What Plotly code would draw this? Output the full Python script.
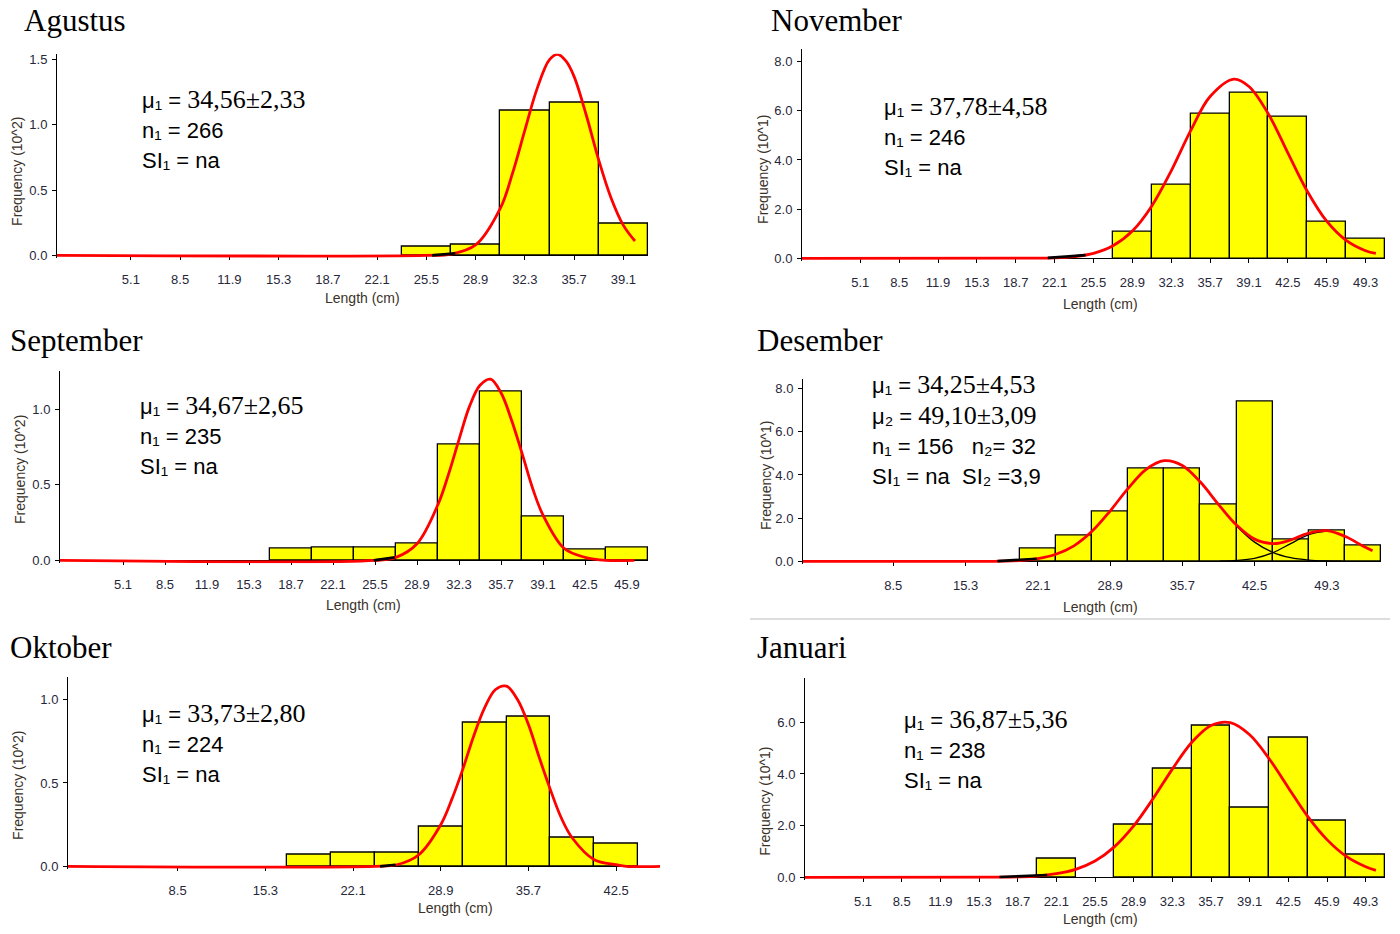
import plotly.graph_objects as go

# ------------------------------------------------------------------ data
BIN_WIDTH = 3.4

# Agustus
ag_len = [25.5, 28.9, 32.3, 35.7, 39.1]
ag_freq = [0.07, 0.08, 1.11, 1.17, 0.24]
ag_curve_x = [0, 25.5, 27.2, 28.9, 30.6, 31.45, 32.3, 33.15, 34.0, 34.56, 35.13, 35.7, 36.55, 37.4, 38.25, 39.1, 39.9]
ag_curve_y = [0, 0, 0.01, 0.08, 0.36, 0.63, 0.96, 1.28, 1.50, 1.54, 1.49, 1.37, 1.07, 0.73, 0.44, 0.23, 0.11]
ag_tail_x = [25.9, 27.5]
ag_tail_y = [0.0, 0.015]
ag_xticks = [5.1, 8.5, 11.9, 15.3, 18.7, 22.1, 25.5, 28.9, 32.3, 35.7, 39.1]
ag_yticks = [0.0, 0.5, 1.0, 1.5]

# November
nov_len = [28.9, 32.3, 35.7, 39.1, 42.5, 45.9, 49.3]
nov_freq = [1.07, 3.00, 5.90, 6.72, 5.74, 1.50, 0.79]
nov_curve_x = [0, 20.4, 22.1, 23.8, 25.5, 27.2, 28.9, 30.6, 32.3, 34.0, 35.7, 37.78, 39.1, 40.8, 42.5, 44.2, 45.9, 47.6, 49.3, 50.2]
nov_curve_y = [0, 0.01, 0.02, 0.07, 0.20, 0.51, 1.11, 2.13, 3.56, 5.19, 6.58, 7.29, 6.99, 5.87, 4.29, 2.73, 1.51, 0.73, 0.31, 0.20]
nov_tail_x = [21.5, 24.8]
nov_tail_y = [0.02, 0.13]
nov_xticks = [5.1, 8.5, 11.9, 15.3, 18.7, 22.1, 25.5, 28.9, 32.3, 35.7, 39.1, 42.5, 45.9, 49.3]
nov_yticks = [0.0, 2.0, 4.0, 6.0, 8.0]

# September
sep_len = [18.7, 22.1, 25.5, 28.9, 32.3, 35.7, 39.1, 42.5, 45.9]
sep_freq = [0.075, 0.085, 0.085, 0.11, 0.77, 1.115, 0.29, 0.07, 0.085]
sep_curve_x = [0, 25.5, 27.2, 28.9, 30.6, 31.45, 32.3, 33.15, 34.0, 34.85, 35.7, 36.55, 37.4, 38.25, 39.1, 40.8, 42.5, 44.2, 46.5]
sep_curve_y = [0, 0, 0.02, 0.11, 0.37, 0.57, 0.80, 1.02, 1.16, 1.20, 1.11, 0.93, 0.71, 0.48, 0.30, 0.08, 0.02, 0, 0]
sep_tail_x = [25.4, 27.1]
sep_tail_y = [0.0, 0.02]
sep_xticks = [5.1, 8.5, 11.9, 15.3, 18.7, 22.1, 25.5, 28.9, 32.3, 35.7, 39.1, 42.5, 45.9]
sep_yticks = [0.0, 0.5, 1.0]

# Desember
des_len = [22.1, 25.5, 28.9, 32.3, 35.7, 39.1, 42.5, 45.9, 49.3, 52.7]
des_freq = [0.58, 1.18, 2.32, 4.30, 4.30, 2.62, 7.39, 1.03, 1.42, 0.73]
des_curve_x = [0, 17.0, 18.7, 20.4, 22.1, 23.8, 25.5, 27.2, 28.9, 30.6, 32.3, 34.0, 35.7, 37.4, 39.1, 40.8, 42.5, 44.2, 45.05, 45.9, 47.6, 49.3, 51.0, 52.7, 53.6]
des_curve_y = [0, 0, 0.01, 0.04, 0.13, 0.33, 0.72, 1.39, 2.33, 3.38, 4.26, 4.66, 4.44, 3.67, 2.64, 1.68, 1.03, 0.82, 0.87, 0.99, 1.31, 1.42, 1.16, 0.71, 0.49]
des_comp1_x = [40.8, 42.5, 44.2, 45.9, 47.6, 49.3, 50.7]
des_comp1_y = [1.64, 0.89, 0.42, 0.17, 0.06, 0.02, 0.01]
des_comp2_x = [39.2, 40.8, 42.5, 44.2, 45.9, 47.6, 49.3]
des_comp2_y = [0.01, 0.04, 0.14, 0.40, 0.82, 1.24, 1.40]
des_tail_x = [18.3, 22.0]
des_tail_y = [0.01, 0.12]
des_xticks = [8.5, 15.3, 22.1, 28.9, 35.7, 42.5, 49.3]
des_yticks = [0.0, 2.0, 4.0, 6.0, 8.0]

# Oktober
okt_len = [18.7, 22.1, 25.5, 28.9, 32.3, 35.7, 39.1, 42.5]
okt_freq = [0.07, 0.08, 0.08, 0.24, 0.86, 0.90, 0.17, 0.135]
okt_curve_x = [0, 23.8, 25.5, 27.2, 28.9, 29.75, 30.6, 31.45, 32.3, 33.15, 34.0, 34.85, 35.7, 36.55, 37.4, 38.25, 39.1, 40.8, 42.5, 43.3, 45.9]
okt_curve_y = [0, 0, 0.01, 0.07, 0.25, 0.40, 0.58, 0.78, 0.95, 1.06, 1.08, 1.00, 0.85, 0.65, 0.46, 0.29, 0.17, 0.04, 0.01, 0, 0]
okt_tail_x = [24.2, 25.4]
okt_tail_y = [0.0, 0.01]
okt_xticks = [8.5, 15.3, 22.1, 28.9, 35.7, 42.5]
okt_yticks = [0.0, 0.5, 1.0]

# Januari
jan_len = [22.1, 28.9, 32.3, 35.7, 39.1, 42.5, 45.9, 49.3]
jan_freq = [0.71, 2.03, 4.19, 5.87, 2.70, 5.40, 2.20, 0.88]
jan_curve_x = [0, 17.0, 18.7, 20.4, 22.1, 23.8, 25.5, 27.2, 28.9, 30.6, 32.3, 34.0, 35.7, 37.4, 39.1, 40.8, 42.5, 44.2, 45.9, 47.6, 49.3, 50.2]
jan_curve_y = [0, 0.01, 0.02, 0.05, 0.14, 0.31, 0.63, 1.18, 1.99, 3.04, 4.19, 5.22, 5.88, 5.99, 5.52, 4.60, 3.47, 2.36, 1.46, 0.81, 0.41, 0.27]
jan_tail_x = [17.1, 21.3]
jan_tail_y = [0.01, 0.09]
jan_xticks = [5.1, 8.5, 11.9, 15.3, 18.7, 22.1, 25.5, 28.9, 32.3, 35.7, 39.1, 42.5, 45.9, 49.3]
jan_yticks = [0.0, 2.0, 4.0, 6.0]

# ------------------------------------------------------------------ style
W, H = 1400, 934
SANS = "Liberation Sans, Arial, sans-serif"
SERIF = "Liberation Serif, Times New Roman, serif"
TICK_COLOR = "#27273a"
TITLE_COLOR = "#3a3228"


def num(s):
    return f"<span style='font-family:{SERIF};font-size:26px'>{s}</span>"


panels = [
    dict(title="Agustus", length=ag_len, freq=ag_freq, cx=ag_curve_x, cy=ag_curve_y,
         tx=ag_tail_x, ty=ag_tail_y, xticks=ag_xticks, yticks=ag_yticks, unit="Frequency (10^2)",
         box=(57, 648, 53, 256), xmax=40.8, ymax=1.546,
         tpos=(22, 20), apos=(140, 99), ypos=(17, 172), xpos=(362, 299),
         lines=["μ₁ = " + num("34,56±2,33"), "n₁ = 266", "SI₁ = na"]),
    dict(title="November", length=nov_len, freq=nov_freq, cx=nov_curve_x, cy=nov_curve_y,
         tx=nov_tail_x, ty=nov_tail_y, xticks=nov_xticks, yticks=nov_yticks, unit="Frequency (10^1)",
         box=(802, 1385, 48, 259), xmax=51.0, ymax=8.525,
         tpos=(769, 20), apos=(882, 106), ypos=(763, 170), xpos=(1100, 305),
         lines=["μ₁ = " + num("37,78±4,58"), "n₁ = 246", "SI₁ = na"]),
    dict(title="September", length=sep_len, freq=sep_freq, cx=sep_curve_x, cy=sep_curve_y,
         tx=sep_tail_x, ty=sep_tail_y, xticks=sep_xticks, yticks=sep_yticks, unit="Frequency (10^2)",
         box=(60, 648, 372, 563), xmax=47.6, ymax=1.257,
         tpos=(8, 342), apos=(138, 407), ypos=(20, 472), xpos=(363, 608),
         lines=["μ₁ = " + num("34,67±2,65"), "n₁ = 235", "SI₁ = na"]),
    dict(title="Desember", length=des_len, freq=des_freq, cx=des_curve_x, cy=des_curve_y,
         tx=des_tail_x, ty=des_tail_y, xticks=des_xticks, yticks=des_yticks, unit="Frequency (10^1)",
         box=(803, 1381, 380, 564), xmax=54.4, ymax=8.46,
         tpos=(755, 342), apos=(870, 386), ypos=(766, 478), xpos=(1100, 610),
         lines=["μ₁ = " + num("34,25±4,53"), "μ₂ = " + num("49,10±3,09"),
                "n₁ = 156\u00a0\u00a0\u00a0n₂= 32",
                "SI₁ = na\u00a0\u00a0SI₂ =3,9"]),
    dict(title="Oktober", length=okt_len, freq=okt_freq, cx=okt_curve_x, cy=okt_curve_y,
         tx=okt_tail_x, ty=okt_tail_y, xticks=okt_xticks, yticks=okt_yticks, unit="Frequency (10^2)",
         box=(68, 660, 680, 871), xmax=45.9, ymax=1.137,
         tpos=(8, 651), apos=(140, 717), ypos=(18, 790), xpos=(455, 913),
         lines=["μ₁ = " + num("33,73±2,80"), "n₁ = 224", "SI₁ = na"]),
    dict(title="Januari", length=jan_len, freq=jan_freq, cx=jan_curve_x, cy=jan_curve_y,
         tx=jan_tail_x, ty=jan_tail_y, xticks=jan_xticks, yticks=jan_yticks, unit="Frequency (10^1)",
         box=(805, 1385, 681, 882), xmax=51.0, ymax=7.73,
         tpos=(755, 651), apos=(902, 723), ypos=(765, 805), xpos=(1100, 924),
         lines=["μ₁ = " + num("36,87±5,36"), "n₁ = 238", "SI₁ = na"]),
]


def px(x):
    return x / W


def py(y):
    return 1 - y / H


fig = go.Figure()
annotations = []
PAD = 3  # px below the zero line so the red curve is not clipped

for i, p in enumerate(panels):
    n = i + 1
    xa, ya = ("x", "y") if n == 1 else (f"x{n}", f"y{n}")
    x0, x1, ytop, ybase = p["box"]
    scale = (ybase - ytop) / p["ymax"]
    ymin = -PAD / scale

    fig.add_trace(go.Bar(x=p["length"], y=p["freq"], width=BIN_WIDTH,
                         marker=dict(color="#ffff00", line=dict(color="#000000", width=1.3)),
                         xaxis=xa, yaxis=ya, showlegend=False, hoverinfo="skip"))
    if p["title"] == "Desember":
        for cx, cy in ((des_comp1_x, des_comp1_y), (des_comp2_x, des_comp2_y)):
            fig.add_trace(go.Scatter(x=cx, y=cy, mode="lines",
                                     line=dict(color="#000000", width=1.3, shape="spline"),
                                     xaxis=xa, yaxis=ya, showlegend=False, hoverinfo="skip"))
    fig.add_trace(go.Scatter(x=p["cx"], y=p["cy"], mode="lines",
                             line=dict(color="#ff0000", width=2.8, shape="spline"),
                             xaxis=xa, yaxis=ya, showlegend=False, hoverinfo="skip"))
    fig.add_trace(go.Scatter(x=p["tx"], y=p["ty"], mode="lines",
                             line=dict(color="#000000", width=2.6),
                             xaxis=xa, yaxis=ya, showlegend=False, hoverinfo="skip"))

    fig.update_layout(**{
        f"xaxis{n if n > 1 else ''}": dict(
            domain=[px(x0), px(x1)], range=[0, p["xmax"]], anchor="free", position=py(ybase),
            showline=True, linecolor="#000000", linewidth=1, layer="below traces",
            tickmode="array", tickvals=p["xticks"], ticktext=[f"{v:.1f}" for v in p["xticks"]],
            ticks="outside", ticklen=4, tickcolor="#000000", ticklabelstandoff=8,
            tickfont=dict(family=SANS, size=13, color=TICK_COLOR),
            showgrid=False, zeroline=False, fixedrange=True),
        f"yaxis{n if n > 1 else ''}": dict(
            domain=[py(ybase + PAD), py(ytop)], range=[ymin, p["ymax"]], anchor=xa,
            showline=True, linecolor="#000000", linewidth=1,
            tickmode="array", tickvals=p["yticks"], ticktext=[f"{v:.1f}" for v in p["yticks"]],
            ticks="outside", ticklen=4, tickcolor="#000000", ticklabelstandoff=2,
            tickfont=dict(family=SANS, size=13, color=TICK_COLOR),
            showgrid=False, zeroline=False, fixedrange=True),
    })

    annotations.append(dict(text=p["title"], x=px(p["tpos"][0]), y=py(p["tpos"][1]),
                            xref="paper", yref="paper", xanchor="left", yanchor="middle",
                            showarrow=False, font=dict(family=SERIF, size=31, color="#000000")))
    ax, ay = p["apos"]
    for k, line in enumerate(p["lines"]):
        annotations.append(dict(text=line, x=px(ax), y=py(ay + 31 * k),
                                xref="paper", yref="paper", xanchor="left", yanchor="middle",
                                showarrow=False, font=dict(family=SANS, size=22, color="#000000")))
    annotations.append(dict(text=p["unit"], x=px(p["ypos"][0]), y=py(p["ypos"][1]), textangle=-90,
                            xref="paper", yref="paper", xanchor="center", yanchor="middle",
                            showarrow=False, font=dict(family=SANS, size=14, color=TITLE_COLOR)))
    annotations.append(dict(text="Length (cm)", x=px(p["xpos"][0]), y=py(p["xpos"][1]),
                            xref="paper", yref="paper", xanchor="center", yanchor="middle",
                            showarrow=False, font=dict(family=SANS, size=14, color=TITLE_COLOR)))

fig.update_layout(
    width=W, height=H, margin=dict(l=0, r=0, t=0, b=0),
    paper_bgcolor="#ffffff", plot_bgcolor="rgba(0,0,0,0)",
    bargap=0, annotations=annotations,
    shapes=[dict(type="line", xref="paper", yref="paper", x0=px(750), x1=px(1390),
                 y0=py(622), y1=py(622), line=dict(color="#dddddd", width=2))],
)

fig.write_html(
    "out.html", config={"displayModeBar": False},
    post_script=("document.documentElement.style.overflow='hidden';"
                 "document.body.style.margin='0px';"
                 "document.body.style.overflow='hidden';"),
)
